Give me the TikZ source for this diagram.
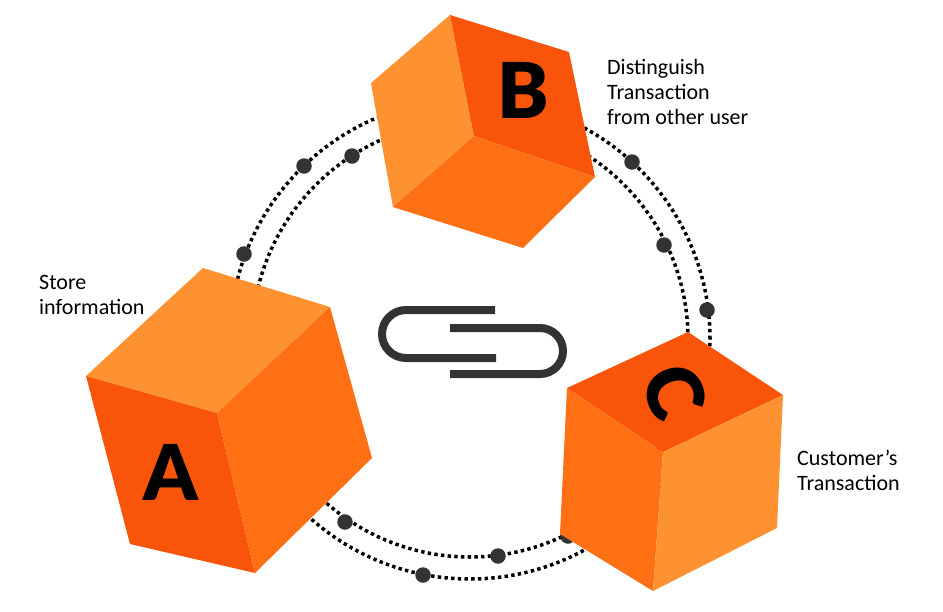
\documentclass[tikz,border=0pt]{standalone}
\usepackage{fontspec}
\setmainfont{Carlito}
\newfontfamily\heavyfont{Lato Black}
\usetikzlibrary{positioning}
\definecolor{lightface}{HTML}{FF9230}
\definecolor{midface}{HTML}{FF6F14}
\definecolor{darkface}{HTML}{F8540A}
\definecolor{clipgrey}{HTML}{333333}
\tikzset{
	ring/.style={draw=black, circle, inner sep=0pt, line width=3.5pt, dash pattern=on 3.4pt off 3.3pt},
	bead/.style={fill=clipgrey, circle, inner sep=0pt, minimum size=15.5pt},
	letter/.style={font=\fontsize{77}{77}\heavyfont, text=black, inner sep=0pt},
	caption/.style={font=\fontsize{22}{25}\selectfont, align=left, anchor=north west, inner sep=0pt, text=black},
	clip wire/.style={draw=clipgrey, line width=8pt}
}
\begin{document}
\begin{tikzpicture}[x=1pt,y=-1pt]
	\useasboundingbox (0,0) rectangle (943,611);
	\coordinate (mid) at (470,339);

	\node (outer) [ring, minimum size=480pt] at (mid) {};
	\node (inner) [ring, minimum size=436pt] at (mid) {};

	\node (b1) [bead] at (304,166) {};
	\node (b2) [bead] at (244,254) {};
	\node (b3) [bead] at (632,162) {};
	\node (b4) [bead] at (707,310) {};
	\node (b5) [bead] at (423,575) {};
	\node (b6) [bead] at (352,156) {};
	\node (b7) [bead] at (664,245) {};
	\node (b8) [bead] at (345,522) {};
	\node (b9) [bead] at (498,556) {};
	\node (b10) [bead] at (568,536) {};

	\coordinate (a1) at (203,268);
	\coordinate (a2) at (330,307);
	\coordinate (a3) at (86,376);
	\coordinate (a4) at (217,413);
	\coordinate (a5) at (130,544);
	\coordinate (a6) at (255,573);
	\coordinate (a7) at (372,458);
	\fill [lightface] (a1) -- (a2) -- (a4) -- (a3) -- cycle;
	\fill [darkface] (a3) -- (a4) -- (a6) -- (a5) -- cycle;
	\fill [midface] (a2) -- (a7) -- (a6) -- (a4) -- cycle;

	\coordinate (e1) at (450,15);
	\coordinate (e2) at (569,52);
	\coordinate (e3) at (595,177);
	\coordinate (e4) at (474,136);
	\coordinate (e5) at (371,83);
	\coordinate (e6) at (393,207);
	\coordinate (e7) at (523,248);
	\fill [lightface] (e1) -- (e4) -- (e6) -- (e5) -- cycle;
	\fill [darkface] (e1) -- (e2) -- (e3) -- (e4) -- cycle;
	\fill [midface] (e4) -- (e3) -- (e7) -- (e6) -- cycle;

	\coordinate (c1) at (688,332);
	\coordinate (c2) at (567,388);
	\coordinate (c3) at (783,395);
	\coordinate (c4) at (663,452);
	\coordinate (c5) at (560,534);
	\coordinate (c6) at (653,591);
	\coordinate (c7) at (777,528);
	\fill [darkface] (c1) -- (c3) -- (c4) -- (c2) -- cycle;
	\fill [midface] (c2) -- (c4) -- (c6) -- (c5) -- cycle;
	\fill [lightface] (c4) -- (c3) -- (c7) -- (c6) -- cycle;

	\node (la) [letter] at (171,472) {A};
	\node (lb) [letter] at (523,90) {B};
	\node (lc) [letter, rotate=-70] at (674,392) {C};

	\node (ta) [caption] at (39,275) {Store\\information};
	\node (tb) [caption] at (607,59) {Distinguish\\Transaction\\from other user};
	\node (tc) [caption] at (797,450) {Customer’s\\Transaction};

	\draw [clip wire] (495,310) -- (406,310) arc (270:90:24) -- (496,358);
	\draw [clip wire] (450,328) -- (540,328) arc (270:450:23) -- (450,374);
\end{tikzpicture}
\end{document}
